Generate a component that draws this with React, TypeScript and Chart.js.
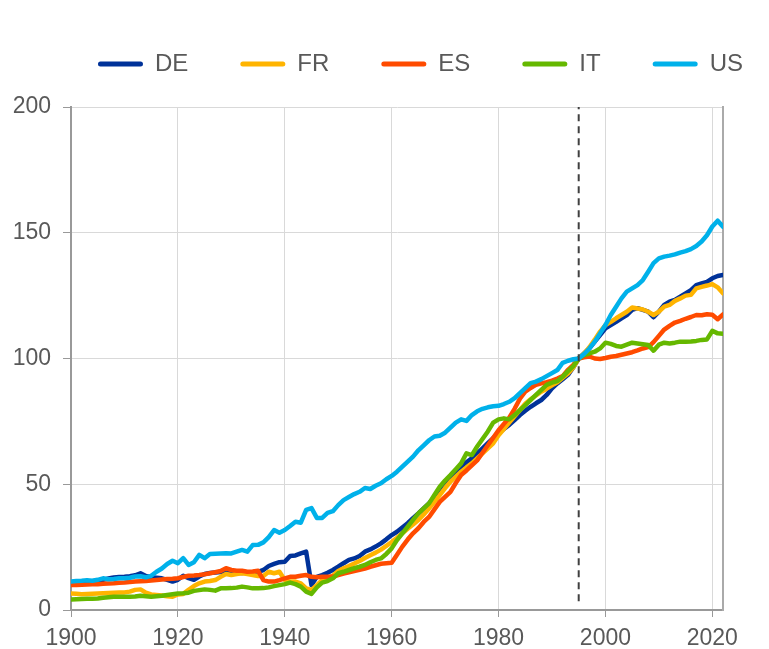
import React, { useEffect, useRef } from "react";
import { Chart, registerables } from "chart.js";

Chart.register(...registerables);

const START_YEAR = 1900;
const LABELS = ["DE", "FR", "ES", "IT", "US"];

const DE = [
  10.6, 10.9, 11.0, 11.2, 11.4, 11.7, 12.0, 12.5, 12.9, 13.1,
  13.2, 13.4, 13.8, 14.6, 13.5, 13.0, 12.8, 12.6, 12.0, 11.3,
  12.0, 13.6, 12.7, 12.0, 13.3, 14.3, 14.7, 14.9, 15.1, 15.2,
  15.0, 14.8, 14.7, 14.9, 15.0, 15.2, 15.9, 17.5, 18.3, 19.0,
  19.2, 21.5, 21.7, 22.5, 23.2, 9.9, 13.2, 13.9, 14.8, 15.9,
  17.2, 18.6, 19.9, 20.5, 21.5, 23.2, 24.1, 25.2, 26.5, 28.1,
  29.8, 31.1, 32.8, 34.5, 36.5, 38.4, 40.4, 42.4, 45.0, 47.7,
  50.0, 52.4, 54.7, 57.0, 58.7, 60.3, 62.3, 64.3, 66.3, 68.3,
  70.3, 72.0, 73.6, 75.5, 77.5, 79.2, 80.8, 82.2, 83.5, 85.5,
  88.1, 90.1, 91.8, 93.5, 96.5, 100, 102.0, 104.0, 106.7, 109.3,
  112.0, 113.3, 114.6, 116.0, 117.3, 119.3, 120.0, 119.3, 118.6, 116.4,
  118.6, 121.3, 122.6, 123.3, 124.6, 125.9, 127.2, 129.2, 129.9, 130.5,
  131.9, 132.8, 133.2,
];

const FR = [
  6.6, 6.5, 6.3, 6.4, 6.5, 6.6, 6.7, 6.8, 6.9, 7.0,
  7.0, 7.3, 8.0, 8.2, 6.9, 6.2, 6.0, 5.8, 5.5, 5.3,
  6.2, 6.4, 8.0, 9.5, 10.6, 11.3, 11.5, 11.9, 13.2, 14.3,
  13.9, 14.3, 14.6, 14.3, 13.9, 13.5, 13.5, 15.2, 14.6, 15.2,
  11.9, 11.3, 11.3, 10.6, 8.6, 8.0, 9.9, 11.9, 12.6, 13.6,
  15.5, 16.6, 17.5, 18.5, 19.5, 20.7, 21.8, 22.8, 24.0, 25.5,
  27.0, 28.7, 30.5, 32.3, 34.0, 35.8, 38.0, 40.4, 43.0, 45.7,
  48.5, 51.0, 53.0, 55.0, 56.7, 58.3, 60.3, 62.3, 64.3, 66.3,
  69.5, 72.0, 74.5, 77.0, 79.5, 82.0, 83.8, 85.3, 86.8, 88.0,
  89.3, 90.5, 92.3, 94.0, 96.5, 100, 102.0, 104.5, 107.5, 110.7,
  113.3, 114.6, 116.0, 117.3, 118.6, 120.3, 119.9, 119.5, 118.6, 117.3,
  118.6, 120.6, 121.3, 122.9, 123.9, 125.0, 125.3, 127.9, 128.5, 129.0,
  129.6, 128.3, 125.9,
];

const ES = [
  9.9, 9.9, 10.0, 10.1, 10.2, 10.2, 10.4, 10.5, 10.6, 10.8,
  10.9, 11.1, 11.3, 11.4, 11.5, 11.7, 11.9, 12.1, 12.3, 12.4,
  12.6, 13.1, 13.6, 13.7, 13.9, 14.2, 14.6, 15.0, 15.5, 16.6,
  15.9, 15.6, 15.6, 15.2, 15.3, 15.6, 11.9, 11.3, 11.3, 11.9,
  12.6, 13.2, 13.2, 13.6, 13.9, 13.2, 13.0, 13.2, 13.2, 13.3,
  13.9, 14.5, 15.0, 15.5, 16.0, 16.5, 17.2, 17.8, 18.4, 18.6,
  18.8, 22.0, 25.2, 28.0, 30.5, 32.5, 35.0, 37.0, 40.0, 43.0,
  45.0, 47.0, 50.5, 53.7, 55.5, 57.5, 59.5, 62.5, 65.5, 68.5,
  71.5, 74.0, 76.5, 80.0, 84.0, 86.8, 88.3, 89.5, 90.1, 90.6,
  91.2, 92.0, 93.0, 95.5, 97.5, 100, 100.5, 100.8, 100.0, 99.8,
  100.2, 100.7, 101.0, 101.5, 102.0, 102.5, 103.2, 104.0, 104.5, 106.5,
  109.0, 111.5, 113.0, 114.3, 115.0, 115.8, 116.5, 117.3, 117.2, 117.6,
  117.4, 115.6, 117.5,
];

const IT = [
  4.2, 4.3, 4.4, 4.5, 4.5, 4.6, 4.9, 5.1, 5.3, 5.3,
  5.3, 5.3, 5.4, 5.7, 5.5, 5.3, 5.5, 5.7, 6.0, 6.3,
  6.6, 6.7, 6.9, 7.6, 7.9, 8.2, 8.0, 7.7, 8.6, 8.6,
  8.7, 8.9, 9.3, 9.0, 8.6, 8.6, 8.7, 9.0, 9.5, 9.9,
  10.3, 10.9, 10.3, 9.3, 7.3, 6.4, 9.0, 10.9, 11.5, 12.6,
  14.6, 15.2, 15.9, 16.6, 17.2, 17.9, 19.0, 19.9, 20.5, 22.3,
  24.5, 27.8, 30.5, 33.1, 35.8, 38.4, 40.4, 42.4, 45.7, 49.0,
  51.5, 53.7, 56.0, 58.3, 62.3, 61.6, 65.0, 68.0, 71.0, 74.5,
  75.8, 76.2, 75.8, 77.5, 79.5, 81.5, 83.5, 85.5, 87.5, 89.5,
  90.4, 91.0, 92.8, 95.0, 97.0, 100, 101.4, 102.0, 102.7, 104.0,
  106.3, 105.8, 105.0, 104.7, 105.5, 106.3, 106.0, 105.7, 105.4, 103.1,
  105.5, 106.3, 106.0, 106.3, 106.7, 106.7, 106.8, 107.0, 107.4, 107.6,
  111.0, 110.0, 109.8,
];

const US = [
  11.3, 11.5, 11.6, 11.8, 11.6, 12.0, 12.6, 12.2, 12.3, 12.6,
  12.6, 12.8, 13.3, 13.4, 13.0, 13.6, 15.2, 16.5, 18.3, 19.6,
  18.6, 20.6, 17.9, 19.0, 21.9, 20.6, 22.3, 22.4, 22.5, 22.6,
  22.5, 23.2, 23.9, 23.2, 25.8, 25.9, 26.9, 29.0, 31.8, 30.7,
  31.8, 33.4, 35.1, 34.7, 39.8, 40.5, 36.6, 36.6, 38.6, 39.3,
  41.7, 43.7, 44.9, 46.1, 47.0, 48.5, 48.1, 49.4, 50.4, 52.0,
  53.3, 55.0, 57.0, 59.0, 61.0, 63.5, 65.5, 67.5, 69.0, 69.3,
  70.5, 72.5, 74.5, 75.8, 75.2, 77.5, 79.0, 80.0, 80.6, 81.0,
  81.2, 81.9, 82.8, 84.2, 86.2, 88.2, 90.2, 90.8, 91.8, 93.0,
  94.2, 95.4, 98.3, 99.1, 99.7, 100, 101.8, 104.0, 106.7, 110.0,
  113.3, 117.3, 120.6, 123.9, 126.6, 127.9, 129.2, 131.2, 134.5, 137.9,
  139.8, 140.5, 140.9, 141.4, 142.1, 142.7, 143.5, 144.7, 146.5, 149.0,
  152.5, 154.8, 152.4,
];

const X_TICKS = [1900, 1920, 1940, 1960, 1980, 2000, 2020];
const Y_TICKS = [0, 50, 100, 150, 200];
const X_MIN = 1900;
const X_MAX = 2022;
const BREAK_YEAR = 1995;
const BREAK_RANGE = [3.5, 200];

const SERIES_VALUES = [DE, FR, ES, IT, US];
const COLORS = ["#003299", "#ffb400", "#ff4b00", "#65b800", "#00b1ea"];

const FONT = "'Liberation Sans', Arial, sans-serif";
const TEXT_COLOR = "#595959";

const legendShift = {
  id: "legendShift",
  afterLayout(chart: any) {
    const l = chart.legend;
    if (!l) return;
    l.left += 36;
    l.right += 36;
    l.top -= 21;
    l.bottom -= 21;
  },
};

export default function App() {
  const ref = useRef<HTMLCanvasElement | null>(null);

  useEffect(() => {
    document.body.style.margin = "0";
    const canvas = ref.current;
    if (!canvas) return;

    const datasets: any[] = SERIES_VALUES.map((vals, i) => ({
      label: LABELS[i],
      data: vals.map((v, j) => ({ x: START_YEAR + j, y: v })),
      borderColor: COLORS[i],
      backgroundColor: COLORS[i],
      borderWidth: 4.5,
      pointRadius: 0,
      tension: 0,
      borderJoinStyle: "round",
      borderCapStyle: "round",
      order: 10 - i,
    }));
    datasets.push({
      label: "break",
      data: BREAK_RANGE.map((y) => ({ x: BREAK_YEAR, y })),
      borderColor: "#404040",
      backgroundColor: "#404040",
      borderWidth: 2,
      borderDash: [7, 5],
      pointRadius: 0,
      order: 0,
    });

    const chart = new Chart(canvas, {
      type: "line",
      data: { datasets },
      plugins: [legendShift],
      options: {
        animation: false,
        responsive: false,
        devicePixelRatio: 1,
        layout: { padding: { top: 21, right: 0, left: 0, bottom: 0 } },
        plugins: {
          tooltip: { enabled: false },
          legend: {
            display: true,
            position: "top",
            labels: {
              color: TEXT_COLOR,
              font: { family: FONT, size: 24 },
              boxWidth: 45,
              boxHeight: 5,
              padding: 52,
              useBorderRadius: true,
              borderRadius: 2.5,
              sort: (a: any, b: any) => a.datasetIndex - b.datasetIndex,
              generateLabels: (c: any) =>
                (Chart.defaults.plugins.legend.labels as any)
                  .generateLabels(c)
                  .filter((it: any) => it.datasetIndex < LABELS.length)
                  .map((it: any) => ({ ...it, lineWidth: 0 })),
            },
          },
        },
        scales: {
          x: {
            type: "linear",
            min: X_MIN,
            max: X_MAX,
            afterBuildTicks: (s: any) => {
              s.ticks = X_TICKS.map((v) => ({ value: v }));
            },
            afterFit: (s: any) => {
              s.height = 39;
            },
            ticks: {
              autoSkip: false,
              maxRotation: 0,
              padding: 8,
              color: TEXT_COLOR,
              font: { family: FONT, size: 23 },
              callback: (v: any) => String(v),
            },
            grid: {
              color: "#d9d9d9",
              lineWidth: 1,
              tickLength: 7,
              tickColor: "#999999",
            },
            border: { display: true, color: "#999999", width: 2 },
          },
          y: {
            type: "linear",
            position: "left",
            min: 0,
            max: 200,
            afterBuildTicks: (s: any) => {
              s.ticks = Y_TICKS.map((v) => ({ value: v }));
            },
            afterFit: (s: any) => {
              s.width = 71;
            },
            ticks: {
              padding: 12,
              color: TEXT_COLOR,
              font: { family: FONT, size: 23 },
              callback: (v: any) => String(v),
            },
            grid: {
              color: "#d9d9d9",
              lineWidth: 1,
              tickLength: 8,
              tickColor: "#999999",
            },
            border: { display: true, color: "#999999", width: 2 },
          },
          y2: {
            type: "linear",
            position: "right",
            min: 0,
            max: 200,
            afterFit: (s: any) => {
              s.width = 46;
            },
            ticks: { display: false },
            grid: { display: false },
            border: { display: true, color: "#aaaaaa", width: 2 },
          },
        },
      } as any,
    });

    return () => chart.destroy();
  }, []);

  return (
    <div style={{ width: 769, height: 649, background: "#ffffff" }}>
      <canvas ref={ref} width={769} height={649} style={{ display: "block" }} />
    </div>
  );
}
